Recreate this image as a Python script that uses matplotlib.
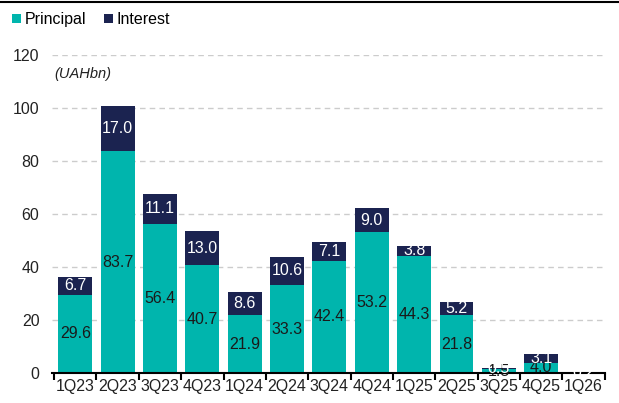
import matplotlib.pyplot as plt
import matplotlib.lines as mlines
import numpy as np

plt.rcParams['font.family'] = ['Liberation Sans', 'DejaVu Sans']

quarters = ['1Q23', '2Q23', '3Q23', '4Q23', '1Q24', '2Q24', '3Q24', '4Q24',
            '1Q25', '2Q25', '3Q25', '4Q25', '1Q26']
principal = [29.6, 83.7, 56.4, 40.7, 21.9, 33.3, 42.4, 53.2, 44.3, 21.8, 1.5, 4.0, 0.0]
interest = [6.7, 17.0, 11.1, 13.0, 8.6, 10.6, 7.1, 9.0, 3.8, 5.2, 0.5, 3.1, 0.2]

teal = '#00B5AD'
navy = '#1B2350'

fig = plt.figure(figsize=(6.19, 4.03), dpi=100)
ax = fig.add_axes([0.084, 0.074, 0.893, 0.7895])

x = np.arange(len(quarters))
b1 = ax.bar(x, principal, width=0.8, color=teal, label='Principal', zorder=2)
b2 = ax.bar(x, interest, width=0.8, bottom=principal, color=navy, label='Interest', zorder=2)

# no label for empty principal bars
ax.bar_label(b1, labels=[f'{v:.1f}' if v > 0 else '' for v in principal],
             label_type='center', fontsize=11.5, color='#1a1a1a')
ax.bar_label(b2, labels=[f'{v:.1f}' for v in interest], label_type='center',
             fontsize=11.5, color='white')

ax.set_ylim(0, 120)
ax.set_xlim(-0.55, 12.45)
ax.set_yticks(range(0, 121, 20))
ax.set_xticks(x)
ax.set_xticklabels(quarters)
ax.set_xticks(np.arange(-0.5, 12.6, 1), minor=True)
ax.tick_params(axis='x', which='major', length=0, labelsize=11.5, colors='#222222', pad=4)
ax.tick_params(axis='x', which='minor', length=5, width=1.5, direction='out', color='black')
ax.tick_params(axis='y', length=0, labelsize=11.5, colors='#222222', pad=9)

ax.yaxis.grid(True, linestyle=(0, (4, 3)), color='#cccccc', linewidth=1, zorder=0)
ax.set_axisbelow(True)
for s in ['top', 'right', 'left']:
    ax.spines[s].set_visible(False)
ax.spines['bottom'].set_linewidth(1.5)

ax.text(0.005, 0.94, '(UAHbn)', transform=ax.transAxes, fontsize=10.5,
        style='italic', color='#222222', va='center')

fig.legend(handles=[b1, b2], loc='upper left', bbox_to_anchor=(0.0, 1.0),
           ncol=2, frameon=False, fontsize=11.5, handlelength=0.55, handleheight=0.55,
           handletextpad=0.25, columnspacing=1.1, borderaxespad=0.35)

fig.add_artist(mlines.Line2D([0, 1], [0.996, 0.996], color='black', linewidth=1.5,
                             transform=fig.transFigure))

fig.savefig('out.png', dpi=100)
